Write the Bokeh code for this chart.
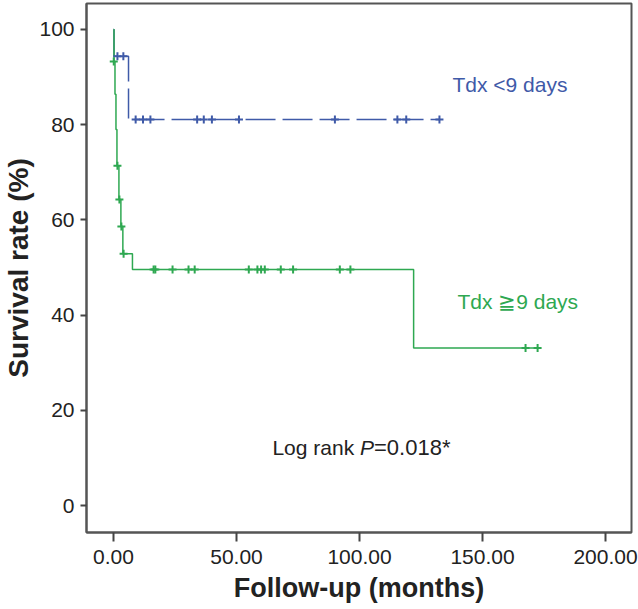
from bokeh.plotting import figure
from bokeh.models import Range1d, FixedTicker, PrintfTickFormatter
from bokeh.core.properties import value
from bokeh.embed import file_html
from bokeh.resources import INLINE

# ---- data ----
blue_step_x = [0.0, 0.2, 6.1, 132.5]
blue_step_y = [100.0, 94.4, 81.1, 81.1]
blue_cens_x = [1.6, 4.0, 9.0, 12.0, 15.0, 34.0, 36.7, 40.0, 51.0, 90.0, 115.4, 119.0, 132.5]
blue_cens_y = [94.4, 94.4, 81.1, 81.1, 81.1, 81.1, 81.1, 81.1, 81.1, 81.1, 81.1, 81.1, 81.1]

green_step_x = [0.0, 0.2, 0.6, 1.0, 1.4, 2.2, 3.0, 3.8, 7.7, 122.0, 172.4]
green_step_y = [100.0, 93.3, 86.4, 79.0, 71.4, 64.3, 58.6, 52.9, 49.6, 33.1, 33.1]
green_cens_x = [0.1, 1.6, 2.4, 3.2, 4.1, 16.3, 17.0, 24.0, 30.5, 33.0, 55.0, 58.5,
                60.0, 61.5, 68.0, 73.0, 92.0, 96.3, 167.5, 172.4]
green_cens_y = [93.3, 71.4, 64.3, 58.6, 52.9, 49.6, 49.6, 49.6, 49.6, 49.6, 49.6, 49.6,
                49.6, 49.6, 49.6, 49.6, 49.6, 49.6, 33.1, 33.1]

x_ticks = [0, 50, 100, 150, 200]
y_ticks = [0, 20, 40, 60, 80, 100]

BLUE = "#3f5aa8"
GREEN = "#2ea851"
FONT = "Liberation Sans"

p = figure(width=638, height=609, output_backend="svg", toolbar_location=None,
           x_range=Range1d(-10.98, 210.57), y_range=Range1d(-5.67, 105.46),
           min_border_left=86, min_border_right=7, min_border_top=3, min_border_bottom=77)
p.background_fill_color = "white"
p.border_fill_color = "white"
p.outline_line_color = "#555555"
p.outline_line_width = 2
p.grid.visible = False

p.xaxis.ticker = FixedTicker(ticks=x_ticks)
p.yaxis.ticker = FixedTicker(ticks=y_ticks)
p.xaxis.formatter = PrintfTickFormatter(format="%.2f")
for ax in (p.xaxis[0], p.yaxis[0]):
    ax.axis_line_color = "#555555"
    ax.axis_line_width = 2
    ax.major_tick_line_color = "#444444"
    ax.major_tick_line_width = 2
    ax.major_tick_in = 0
    ax.minor_tick_line_color = None
    ax.major_label_text_font = FONT
    ax.major_label_text_font_size = "21px"
    ax.major_label_text_color = "#222222"
    ax.axis_label_text_font = FONT
    ax.axis_label_text_font_style = "bold"
    ax.axis_label_text_color = "#222222"

p.xaxis.major_tick_out = 9
p.xaxis.major_label_standoff = 8
p.xaxis.axis_label = "Follow-up (months)"
p.xaxis.axis_label_standoff = 6
p.xaxis.axis_label_text_font_size = "27px"
p.yaxis.major_tick_out = 6
p.yaxis.major_label_standoff = 6
p.yaxis.axis_label = "Survival rate (%)"
p.yaxis.axis_label_standoff = 2
p.yaxis.axis_label_text_font_size = "28px"

# curves
p.step(blue_step_x, blue_step_y, mode="after", line_color=BLUE, line_width=1.5, line_dash="30 7")
p.step(green_step_x, green_step_y, mode="after", line_color=GREEN, line_width=1.5)
p.scatter(blue_cens_x, blue_cens_y, marker="cross", size=8, line_color=BLUE, line_width=2)
p.scatter(green_cens_x, green_cens_y, marker="cross", size=8, line_color=GREEN, line_width=2)

# annotations
p.text(x=[137.8], y=[88.4], text=["Tdx <9 days"], text_color=BLUE,
       text_font=value(FONT), text_font_size="21px", text_baseline="alphabetic")
p.text(x=[139.8], y=[42.9], text=["Tdx \u22679 days"], text_color=GREEN,
       text_font=value(FONT), text_font_size="21px", text_baseline="alphabetic")
p.text(x=[64.6], y=[12.2], text=["Log rank "], text_color="#222222",
       text_font=value(FONT), text_font_size="21px", text_baseline="alphabetic")
p.text(x=[100.2], y=[12.2], text=["P"], text_color="#222222", text_font_style="italic",
       text_font=value(FONT), text_font_size="21px", text_baseline="alphabetic")
p.text(x=[105.9], y=[12.2], text=["=0.018*"], text_color="#222222",
       text_font=value(FONT), text_font_size="22px", text_baseline="alphabetic")

open("out.html", "w").write(file_html(p, INLINE))
